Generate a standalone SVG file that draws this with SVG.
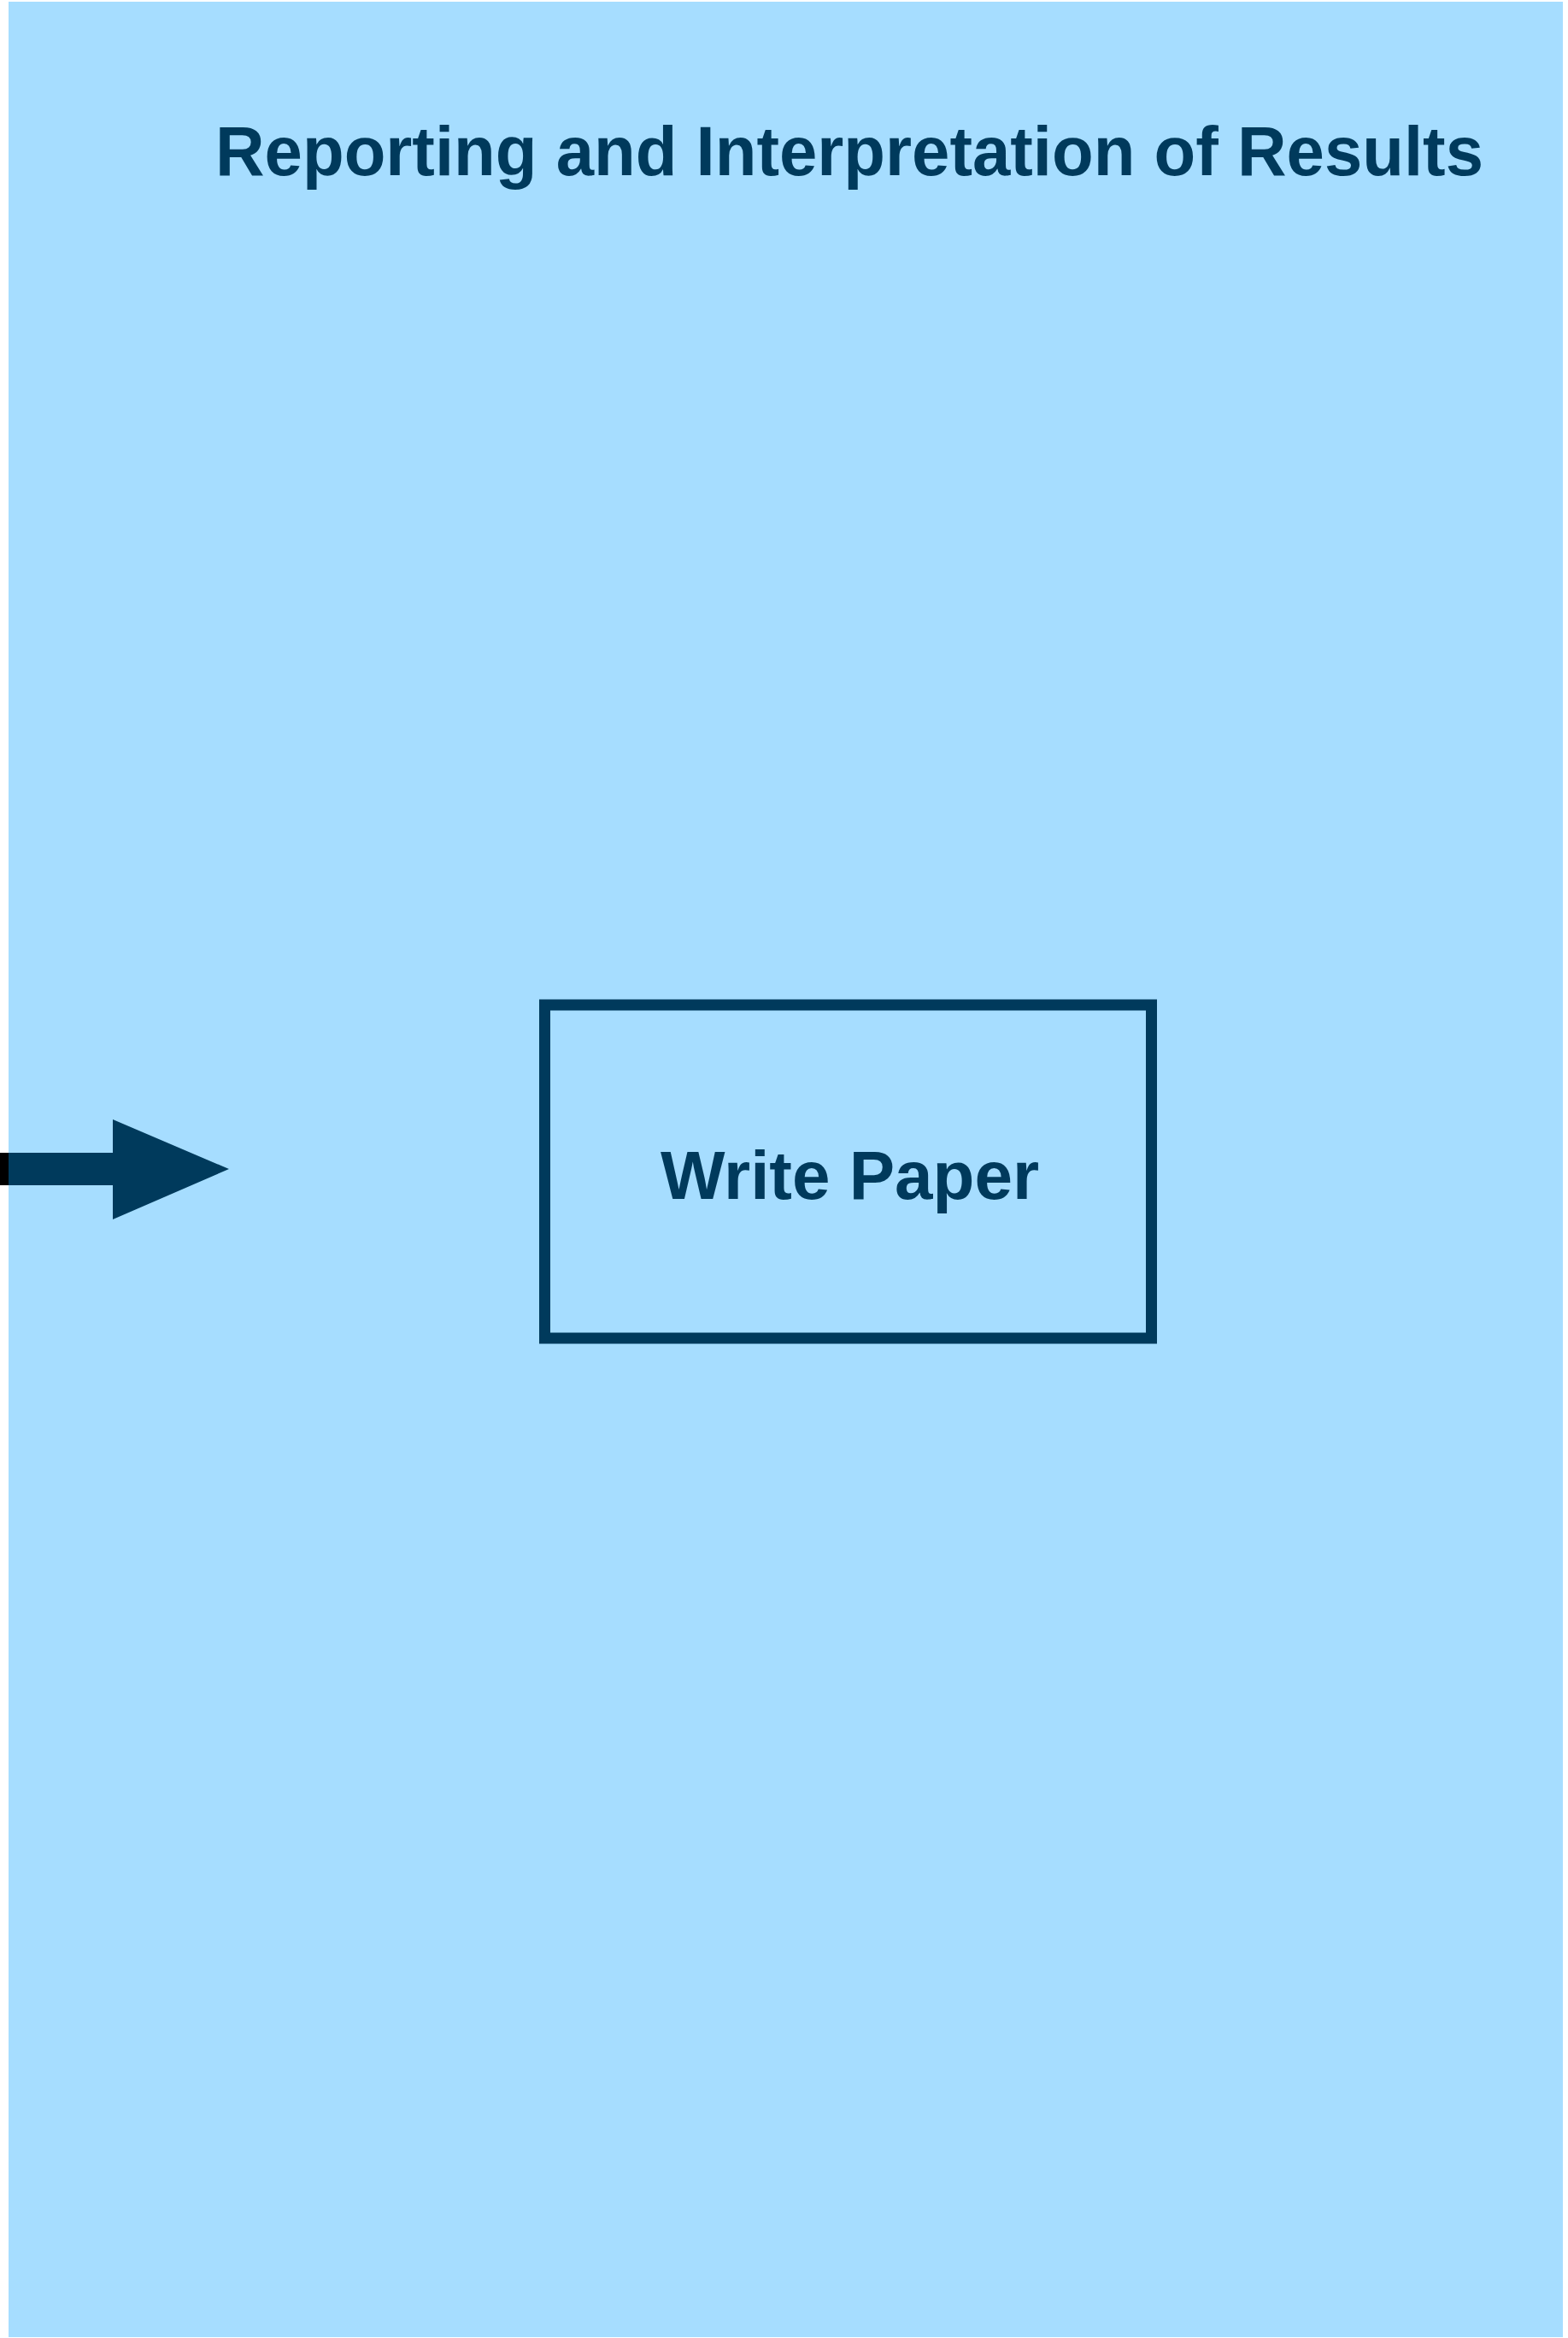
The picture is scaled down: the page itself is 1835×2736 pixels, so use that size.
<svg xmlns="http://www.w3.org/2000/svg" width="1835" height="2736" viewBox="0 0 1835 2736">
<style>
.lbl{font-family:"Liberation Sans",Arial,Helvetica,sans-serif;font-weight:bold;fill:#003A5C;text-anchor:middle}
.box{fill:none;stroke:#003A5C;stroke-width:13}
</style>
<rect x="0" y="0" width="1835" height="2736" fill="#ffffff"/>
<g id="lane">
<rect x="10" y="2" width="1819" height="2733" fill="#A6DDFF"/>
<text class="lbl" x="994" y="205" font-size="81" textLength="1484" lengthAdjust="spacingAndGlyphs">Reporting and Interpretation of Results</text>
</g>
<g id="connectors">
<rect x="0" y="1349" width="10" height="38" fill="#000000"/>
<polygon points="10,1349 132,1349 132,1310 268,1368 132,1427 132,1387 10,1387" fill="#003A5C"/>
</g>
<g id="write-paper">
<rect class="box" x="637.5" y="1176" width="710" height="390"/>
<text class="lbl" x="994.5" y="1403" font-size="80">Write Paper</text>
</g>
</svg>
